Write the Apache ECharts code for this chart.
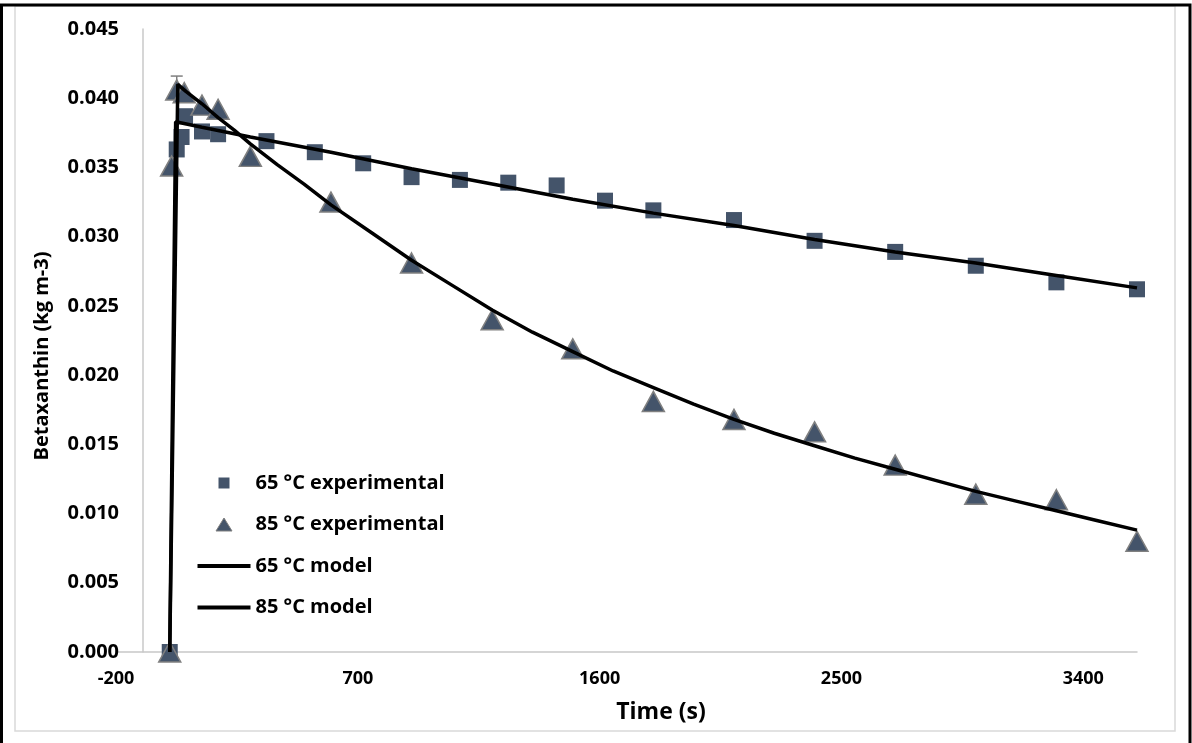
<!DOCTYPE html>
<html><head><meta charset="utf-8">
<script src="https://cdn.jsdelivr.net/npm/echarts@6/dist/echarts.min.js"></script>
<style>html,body{margin:0;padding:0;background:#fff}#c{width:1192px;height:743px}</style>
</head><body><div id="c"></div>
<script>
// Axis ticks
const xTickLabels = [-200, 700, 1600, 2500, 3400];
const yTickLabels = [0, 0.005, 0.010, 0.015, 0.020, 0.025, 0.030, 0.035, 0.040, 0.045];

// 65 °C experimental
const t65exp = [0, 26, 44, 57, 120, 180, 360, 540, 720, 900, 1080, 1260, 1440, 1620, 1800, 2100, 2400, 2700, 3000, 3300, 3600];
const v65exp = [0, 0.0363, 0.0372, 0.0387, 0.0376, 0.0374, 0.0369, 0.0361, 0.0353, 0.0343, 0.0341, 0.0339, 0.0337, 0.0326, 0.0319, 0.0312, 0.0297, 0.0289, 0.0279, 0.0267, 0.0262];

// 85 °C experimental
const t85exp = [0, 7, 26, 54, 120, 180, 300, 600, 900, 1200, 1500, 1800, 2100, 2400, 2700, 3000, 3300, 3600];
const v85exp = [0, 0.0351, 0.0406, 0.0404, 0.0395, 0.0392, 0.0358, 0.0325, 0.0281, 0.0240, 0.0219, 0.0181, 0.0168, 0.0159, 0.0135, 0.0114, 0.0110, 0.0080];
// error bar (upper half) on the peak point
const errT = [26];
const errLow = [0.0406];
const errHigh = [0.0416];

// 65 °C model
const t65mod = [0, 22, 120, 300, 600, 900, 1200, 1500, 1800, 2100, 2400, 2700, 3000, 3300, 3600];
const v65mod = [0, 0.0383, 0.0379, 0.0372, 0.0361, 0.0349, 0.0338, 0.0327, 0.0317, 0.0308, 0.0298, 0.0289, 0.0281, 0.0272, 0.0263];

// 85 °C model
const t85mod = [0, 30, 60, 120, 180, 240, 300, 400, 500, 600, 750, 900, 1050, 1200, 1350, 1500, 1650, 1800, 1950, 2100, 2250, 2400, 2550, 2700, 2850, 3000, 3150, 3300, 3450, 3600];
const v85mod = [0, 0.0410, 0.0405, 0.0396, 0.0386, 0.0377, 0.0367, 0.0352, 0.0338, 0.0323, 0.0303, 0.0283, 0.0265, 0.0247, 0.0231, 0.0217, 0.0203, 0.0191, 0.0179, 0.0168, 0.0158, 0.0149, 0.0140, 0.0132, 0.0124, 0.0116, 0.0109, 0.0102, 0.0095, 0.0088];

const zip = (a, b) => a.map((x, i) => [x, b[i]]);
const FONT = '"Open Sans", "Liberation Sans", sans-serif';
const MARK = '#44546A';
const AXIS = '#c8c8c8';

// legend icons: invisible moveTo points fix the 53x14 box, the drawn shape sits in the middle
const ICON_SQUARE = 'path://M0,0M53,14M21,1.5h11v11h-11z';
const ICON_TRI = 'path://M0,0M53,14M26.5,0.5L34.5,13.5L18.5,13.5Z';
const ICON_LINE = 'path://M0,0M53,14M0,5h53v4h-53z';

const chart = echarts.init(document.getElementById('c'));
chart.setOption({
  animation: false,
  backgroundColor: '#fff',
  grid: { left: 116, right: 55, top: 29, bottom: 91, containLabel: false },
  xAxis: {
    type: 'value', min: -200, max: 3600,
    axisLine: { onZero: false, lineStyle: { color: AXIS, width: 1.5 } },
    axisTick: { show: false },
    splitLine: { show: false },
    axisLabel: { customValues: xTickLabels, margin: 18, color: '#000', fontFamily: FONT, fontWeight: 'bold', fontSize: 18,
      formatter: v => String(v) }
  },
  yAxis: {
    type: 'value', min: 0, max: 0.045, interval: 0.005, offset: -27,
    axisLine: { show: true, onZero: false, lineStyle: { color: AXIS, width: 1.5 } },
    axisTick: { show: false },
    splitLine: { show: false },
    axisLabel: { customValues: yTickLabels, margin: 24, color: '#000', fontFamily: FONT, fontWeight: 'bold', fontSize: 20,
      formatter: v => v.toFixed(3) }
  },
  legend: {
    orient: 'vertical', left: 197, top: 473, padding: 0, itemGap: 21.5,
    itemWidth: 53, itemHeight: 14, symbolKeepAspect: false,
    textStyle: { color: '#000', fontFamily: FONT, fontWeight: 'bold', fontSize: 20, lineHeight: 20 },
    data: [
      { name: '65 °C experimental', icon: ICON_SQUARE, itemStyle: { color: MARK, borderWidth: 0 } },
      { name: '85 °C experimental', icon: ICON_TRI, itemStyle: { color: MARK, borderColor: '#808080', borderWidth: 1 } },
      { name: '65 °C model', icon: ICON_LINE, itemStyle: { color: '#000', borderWidth: 0 } },
      { name: '85 °C model', icon: ICON_LINE, itemStyle: { color: '#000', borderWidth: 0 } }
    ]
  },
  graphic: [
    { type: 'rect', shape: { x: 15, y: 6, width: 1160, height: 725 }, style: { fill: 'none', stroke: '#d9d9d9', lineWidth: 1.5 }, z: 0, silent: true },
    { type: 'polyline', shape: { points: [[1.5, 743], [1.5, 5], [1190, 5], [1190, 743]] }, style: { fill: 'none', stroke: '#000', lineWidth: 3 }, z: 0, silent: true },
    { type: 'text', x: 661, y: 712, style: { text: 'Time (s)', fill: '#000', font: 'bold 23px ' + FONT, textAlign: 'center', textVerticalAlign: 'middle' } },
    { type: 'text', x: 42, y: 356, rotation: Math.PI / 2, style: { text: 'Betaxanthin (kg m-3)', fill: '#000', font: 'bold 20px ' + FONT, textAlign: 'center', textVerticalAlign: 'middle' } }
  ],
  series: [
    {
      name: 'err', type: 'custom', z: 1, silent: true,
      data: errT.map((t, i) => [t, errLow[i], errHigh[i]]),
      renderItem: (params, api) => {
        const p0 = api.coord([api.value(0), api.value(1)]);
        const p1 = api.coord([api.value(0), api.value(2)]);
        const st = { stroke: '#7f7f7f', lineWidth: 1.5 };
        return { type: 'group', children: [
          { type: 'line', shape: { x1: p0[0], y1: p0[1], x2: p1[0], y2: p1[1] }, style: st },
          { type: 'line', shape: { x1: p1[0] - 6, y1: p1[1], x2: p1[0] + 6, y2: p1[1] }, style: st }
        ] };
      }
    },
    {
      name: '65 °C experimental', type: 'scatter', z: 2,
      symbol: 'rect', symbolSize: 16,
      itemStyle: { color: MARK, opacity: 1 },
      data: zip(t65exp, v65exp)
    },
    {
      name: '85 °C experimental', type: 'scatter', z: 3,
      symbol: 'triangle', symbolSize: [22, 20],
      itemStyle: { color: MARK, borderColor: '#808080', borderWidth: 1.5, opacity: 1 },
      data: zip(t85exp, v85exp)
    },
    {
      name: '65 °C model', type: 'line', z: 4, symbol: 'none', showSymbol: false, smooth: false,
      lineStyle: { color: '#000', width: 3.5 }, itemStyle: { color: '#000' },
      data: zip(t65mod, v65mod)
    },
    {
      name: '85 °C model', type: 'line', z: 5, symbol: 'none', showSymbol: false, smooth: false,
      lineStyle: { color: '#000', width: 3.5 }, itemStyle: { color: '#000' },
      data: zip(t85mod, v85mod)
    }
  ]
});
</script>
</body></html>
